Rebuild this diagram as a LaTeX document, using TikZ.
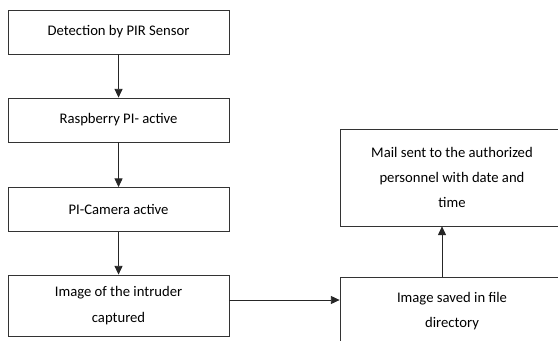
\documentclass[tikz,border=0pt]{standalone}
\usepackage{fontspec}
\setmainfont{Carlito}
\usepackage{tikz}
\usetikzlibrary{arrows.meta,positioning}
\tikzstyle{block} = [rectangle, draw=black!80, line width=0.6pt, align=center, font=\fontsize{11}{19}\selectfont, minimum width=165.75pt, inner sep=2pt]

\begin{document}
\begin{tikzpicture}[>={Triangle[length=6.5pt,width=6pt]}, line width=0.6pt]
  \useasboundingbox (0pt, 0pt) rectangle (418.5pt, -255pt);
  \clip (0pt, 0pt) rectangle (418.5pt, -255pt);
  \draw (88.9pt, -24.0pt)node[block, minimum height=33pt](0){Detection by PIR Sensor};
  \draw (88.9pt, -90.0pt)node[block, minimum height=33pt](1){Raspberry PI- active};
  \draw (88.9pt, -157.1pt)node[block, minimum height=33pt](2){PI-Camera active};
  \draw (88.9pt, -229.1pt)node[block, minimum height=45.75pt](3){Image of the intruder\\captured};
  \draw (339pt, -233.3pt)node[block, minimum width=168pt, minimum height=51pt](4){Image saved in file\\directory};
  \draw (339pt, -133.1pt)node[block, minimum width=168pt, minimum height=72.75pt](5){Mail sent to the authorized\\personnel with date and\\time};
  \draw[->, black!85] (0) -- (1);
  \draw[->, black!85] (1) -- (2);
  \draw[->, black!85] (2) -- (3);
  \draw[->, black!85] ([yshift=4.1pt]3.east) -- ([yshift=4.1pt]3.east -| 4.west);
  \draw[->, black!85] ([xshift=-7.5pt]4.north) -- ([xshift=-7.5pt]4.north |- 5.south);
\end{tikzpicture}
\end{document}
